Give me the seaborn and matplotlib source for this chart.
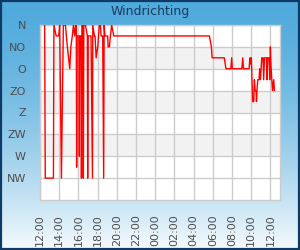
import numpy as np
import pandas as pd
import matplotlib
matplotlib.use("Agg")
import matplotlib.pyplot as plt
import matplotlib.dates as mdates
from matplotlib.patches import Rectangle
import seaborn as sns

# ---- data -------------------------------------------------------------
title = "Windrichting"
direction_labels = ["N", "NO", "O", "ZO", "Z", "ZW", "W", "NW"]
direction_degrees = [0, 45, 90, 135, 180, 225, 270, 315]

times = ["12:29", "12:33", "13:24", "13:27", "13:41", "13:57", "14:03", "14:14",
         "14:26", "14:39", "14:51", "15:06", "15:13", "15:22", "15:29", "15:37",
         "15:43", "15:47", "15:49", "15:52", "16:03", "16:06", "16:09", "16:17",
         "16:19", "16:22", "16:29", "16:31", "16:34", "16:44", "16:56", "16:58",
         "17:01", "17:19", "17:28", "17:30", "17:40", "17:44", "17:51", "18:01",
         "18:11", "18:18", "18:22", "18:32", "18:38", "18:41", "18:46", "19:03",
         "19:06", "19:14", "19:20", "19:28", "19:41", "05:39", "05:51", "05:56",
         "07:12", "07:22", "07:53", "07:58", "08:02", "09:02", "09:07", "09:12",
         "09:47", "09:52", "09:56", "10:01", "10:09", "10:16", "10:20", "10:25",
         "10:31", "10:33", "10:37", "10:41", "10:49", "10:53", "10:58", "11:02",
         "11:06", "11:14", "11:18", "11:23", "11:35", "11:39", "11:43", "11:52",
         "11:56", "12:00", "12:04", "12:13", "12:21", "12:25"]
degrees = [0, 315, 315, 0, 22.5, 22.5, 0, 315,
           0, 0, 45, 90, 45, 22.5, 0, 22.5,
           0, 0, 292.5, 22.5, 22.5, 270, 22.5, 22.5,
           315, 0, 0, 315, 0, 0, 22.5, 315,
           22.5, 22.5, 315, 0, 22.5, 22.5, 67.5, 45,
           0, 0, 22.5, 22.5, 315, 0, 22.5, 22.5,
           45, 45, 22.5, 0, 22.5, 22.5, 45, 67.5,
           67.5, 90, 90, 67.5, 90, 90, 67.5, 90,
           90, 67.5, 80, 67.5, 157.5, 157.5, 112.5, 135,
           135, 157.5, 130, 112.5, 112.5, 90, 112.5, 90,
           67.5, 67.5, 112.5, 67.5, 67.5, 112.5, 67.5, 67.5,
           112.5, 45, 85, 135, 112.5, 135]

start_day = "2024-05-01"
axis_start = "2024-05-01 12:00"
axis_end = "2024-05-02 13:00"

# ---- build timestamps (roll over midnight) -----------------------------
stamps = []
day = pd.Timestamp(start_day)
prev = None
for t in times:
    ts = pd.Timestamp(f"{day.date()} {t}")
    if prev is not None and ts < prev:
        day = day + pd.Timedelta(days=1)
        ts = pd.Timestamp(f"{day.date()} {t}")
    stamps.append(ts)
    prev = ts
df = pd.DataFrame({"time": stamps, "deg": degrees})

# ---- figure -----------------------------------------------------------
sns.set_style("white")
plt.rcParams["font.family"] = ["DejaVu Sans"]

fig = plt.figure(figsize=(3.0, 2.5), dpi=100)

# background gradient
bg = fig.add_axes([0, 0, 1, 1], zorder=-10)
top = np.array([80, 170, 220]) / 255
bot = np.array([245, 250, 253]) / 255
tt = (np.linspace(0, 1, 256) ** 1.5)[:, None]
grad = top[None, :] * (1 - tt) + bot[None, :] * tt
bg.imshow(grad[:, None, :], aspect="auto", extent=[0, 1, 0, 1])
bg.set_axis_off()
fig.patches.append(Rectangle((0.002, 0.003), 0.995, 0.993, transform=fig.transFigure,
                             fill=False, edgecolor="#0d3a66", linewidth=1.6))

fig.text(0.5, 0.952, title, ha="center", va="center", fontsize=9, color="#1b3b5f")

ax = fig.add_axes([0.1333, 0.2, 0.8, 0.7])
ax.set_facecolor("white")

# alternating bands
for lo in [45, 135, 225]:
    ax.axhspan(lo, lo + 45, color="#f2f2f2", zorder=0, linewidth=0)

sns.lineplot(data=df, x="time", y="deg", ax=ax, color="#ff0000", linewidth=1,
             estimator=None, sort=False, zorder=3)

ax.set_ylim(360, 0)
ax.set_yticks(direction_degrees)
ax.set_yticklabels(direction_labels)
ax.set_xlim(pd.Timestamp(axis_start), pd.Timestamp(axis_end))
ax.xaxis.set_major_locator(mdates.HourLocator(byhour=range(0, 24, 2)))
ax.xaxis.set_major_formatter(mdates.DateFormatter("%H:%M"))
ax.set_xlabel("")
ax.set_ylabel("")
ax.grid(True, color="#cccccc", linewidth=1, zorder=1)
ax.set_axisbelow(True)
for s in ax.spines.values():
    s.set_color("#cccccc")
    s.set_linewidth(1)
ax.tick_params(axis="both", length=0, labelsize=8, labelcolor="#4d4d4d")
ax.tick_params(axis="y", pad=10)
ax.tick_params(axis="x", pad=10, labelrotation=90)

fig.savefig("out.png", dpi=100)
